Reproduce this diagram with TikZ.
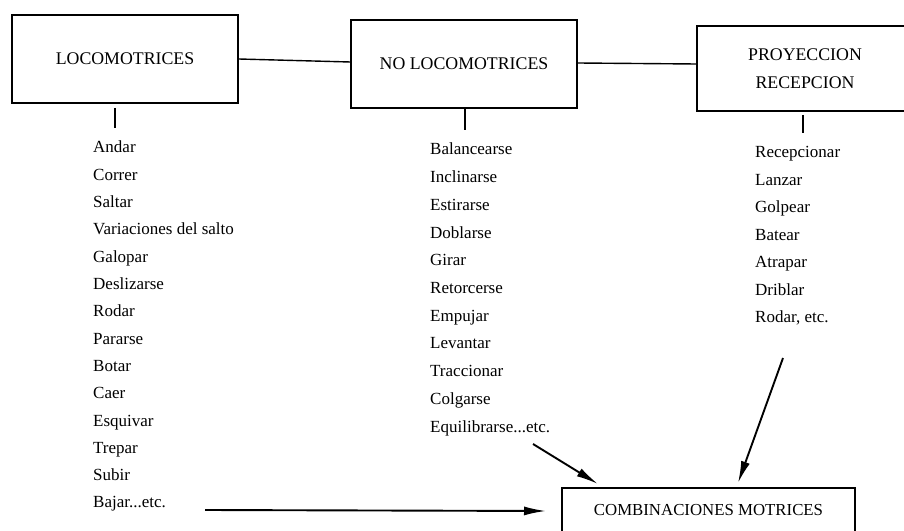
\documentclass[tikz,border=0pt]{standalone}
\usepackage{fontspec}
\setmainfont{Liberation Serif}
\usetikzlibrary{arrows.meta}
% three full stops, kept out of the \foreach lists
\newcommand{\tridots}{...}
\begin{document}
\begin{tikzpicture}[x=1bp,y=-1bp,
  box/.style={draw, line width=1.5bp, inner sep=0pt, align=center,
    font=\fontsize{17.8bp}{28bp}\selectfont},
  item/.style={anchor=base west, inner sep=0pt,
    font=\fontsize{17bp}{20bp}\selectfont},
  link/.style={line width=1.4bp},
  tick/.style={line width=1.8bp},
  arr/.style={line width=1.9bp, -{Latex[length=22bp,width=9bp]}}]
\useasboundingbox (0,0) rectangle (904,531);

% category boxes
\node[box, minimum width=226bp, minimum height=88bp] (loc) at (125,59) {LOCOMOTRICES};
\node[box, minimum width=226bp, minimum height=88bp] (noloc) at (464,64) {NO LOCOMOTRICES};
\node[box, minimum width=216bp, minimum height=85bp] (proy) at (805,68.5) {PROYECCION\\RECEPCION};
\node[box, anchor=base, minimum width=293bp, text height=11bp, text depth=30bp,
  inner ysep=16bp, font=\fontsize{16.8bp}{20bp}\selectfont] (comb) at (708.5,515) {COMBINACIONES MOTRICES};

% links between the boxes
\draw[link] (loc.east) -- (noloc.west |- 0,62);
\draw[link] (noloc.east |- 0,63) -- (proy.west |- 0,64);

% short ticks under each box
\coordinate (t1a) at (115,108); \coordinate (t1b) at (115,128);
\coordinate (t2a) at (465,109); \coordinate (t2b) at (465,130);
\coordinate (t3a) at (803,115); \coordinate (t3b) at (803,133);
\draw[tick] (t1a) -- (t1b);
\draw[tick] (t2a) -- (t2b);
\draw[tick] (t3a) -- (t3b);

% movement lists
\foreach \t [count=\i from 0] in {Andar, Correr, Saltar, Variaciones del salto,
  Galopar, Deslizarse, Rodar, Pararse, Botar, Caer, Esquivar, Trepar, Subir, Bajar\tridots etc.}
  \node[item] (a\i) at (93,153+27.3*\i) {\t};
\foreach \t [count=\i from 0] in {Balancearse, Inclinarse, Estirarse, Doblarse, Girar,
  Retorcerse, Empujar, Levantar, Traccionar, Colgarse, Equilibrarse\tridots etc.}
  \node[item] (b\i) at (430,155+27.7*\i) {\t};
\foreach \t [count=\i from 0] in {Recepcionar, Lanzar, Golpear, Batear, Atrapar,
  Driblar, {Rodar, etc.}}
  \node[item] (c\i) at (755,158+27.5*\i) {\t};

% arrows into the combinations box
\coordinate (s1) at (205,510); \coordinate (e1) at (546,511);
\coordinate (s2) at (533,444); \coordinate (e2) at (598,484);
\coordinate (s3) at (783,358); \coordinate (e3) at (738,483);
\draw[arr] (s1) -- (e1);
\draw[arr] (s2) -- (e2);
\draw[arr] (s3) -- (e3);
\end{tikzpicture}
\end{document}
